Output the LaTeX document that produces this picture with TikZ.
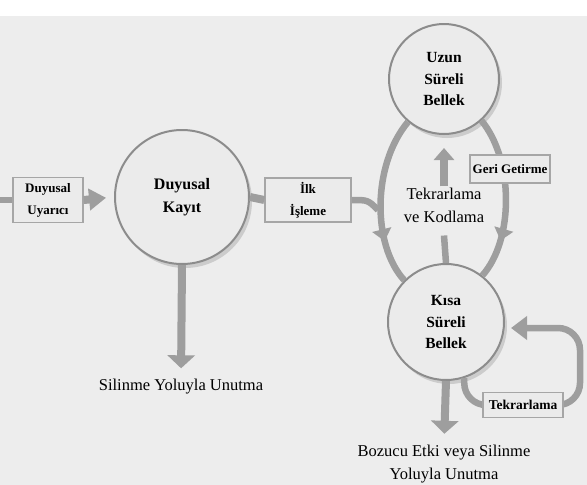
\documentclass[tikz,border=0pt]{standalone}
\usepackage{fontspec}
\setmainfont{Liberation Serif}
\usetikzlibrary{arrows.meta,decorations.markings,shadows}

\begin{document}
\begin{tikzpicture}[
  x=1pt, y=-1pt,
  mem/.style={circle, draw=black!45, line width=2pt, fill=black!8, align=center,
              inner sep=0pt, font=\fontsize{15.5}{21.5}\selectfont\bfseries,
              drop shadow={shadow xshift=3pt, shadow yshift=-4pt, fill=black!20, opacity=1}},
  box/.style={draw=black!35, line width=1.5pt, fill=black!8, rectangle, align=center,
              inner sep=1pt, font=\fontsize{13}{22}\selectfont\bfseries},
  lbl/.style={align=center, inner sep=1pt, font=\fontsize{16.5}{23}\selectfont},
  pipe/.style={draw, color=black!38, line width=6.5pt},
  arr/.style={pipe, line width=8pt, -{Triangle[width=27pt,length=13pt]}},
  bend/.style={pipe, postaction={decorate}, decoration={markings,
               mark=at position #1 with {\arrow{Triangle[width=19pt,length=12pt]}}}},
]

  % --- Background ---
  \useasboundingbox (0,0) rectangle (587,485);
  \fill[black!7] (0,16) rectangle (587,485);

  % --- Boxes and stores ---
  \node[box, minimum width=70pt, minimum height=45pt] (uyarici) at (48,200)
    {Duyusal\\Uyarıcı};
  \node[mem, minimum size=134pt, font=\fontsize{16}{23}\selectfont\bfseries]
    (kayit) at (182,197) {Duyusal\\Kayıt};
  \node[box, minimum width=86pt, minimum height=44pt] (ilk) at (308,200)
    {İlk\\İşleme};
  \node[mem, minimum size=110pt] (uzun) at (444,79) {Uzun\\Süreli\\Bellek};
  \node[mem, minimum size=116pt] (kisa) at (446,322) {Kısa\\Süreli\\Bellek};

  % --- Plain labels ---
  \node[lbl] (tk) at (444,205) {Tekrarlama\\ve Kodlama};
  \node[lbl] (silinme) at (181,387) {Silinme Yoluyla Unutma};
  \node[lbl] (bozucu) at (444,464) {Bozucu Etki veya Silinme\\Yoluyla Unutma};

  \coordinate (src) at (0,200);
  \coordinate (join) at (378,210);
  \coordinate (loopend) at ([xshift=6pt,yshift=-6pt]kisa.east);

  % --- Left part ---
  \draw[pipe] (src) -- (uyarici.west);
  \draw[arr, -{Triangle[width=21pt,length=17pt]}, shorten >=8pt]
    (uyarici.east) -- (kayit.west);
  \draw[pipe, line width=8pt] (kayit.east) -- (ilk.west);
  \draw[arr, shorten >=10pt] (kayit.south) -- (silinme.north);

  % --- Loops between the two memories ---
  \draw[pipe] (ilk.east) .. controls (368,200) .. (join);
  \draw[bend=0.74] (uzun.230) .. controls (372,165) and (372,245) .. (kisa.135);
  \draw[bend=0.76] (uzun.-48) .. controls (514,160) and (514,240) .. (kisa.52);
  \draw[pipe] (kisa.north) -- ([yshift=-12pt]tk.south);
  \draw[arr, -{Triangle[width=20pt,length=12pt]}, shorten >=13pt]
    (tk.north) -- (uzun.south);

  % --- Rehearsal and forgetting ---
  \draw[pipe, rounded corners=22pt, -{Triangle[width=23pt,length=16pt]}]
    (kisa.-72) |- (580,405) |- (loopend);
  \draw[arr, shorten >=10pt] (kisa.south) -- (bozucu.north);

  \node[box, minimum width=80pt, minimum height=28pt] (geri) at (510,169)
    {Geri Getirme};
  \node[box, minimum width=80pt, minimum height=25pt, font=\fontsize{13.5}{22}\selectfont\bfseries]
    (tekrar) at (523,405) {Tekrarlama};

\end{tikzpicture}
\end{document}
